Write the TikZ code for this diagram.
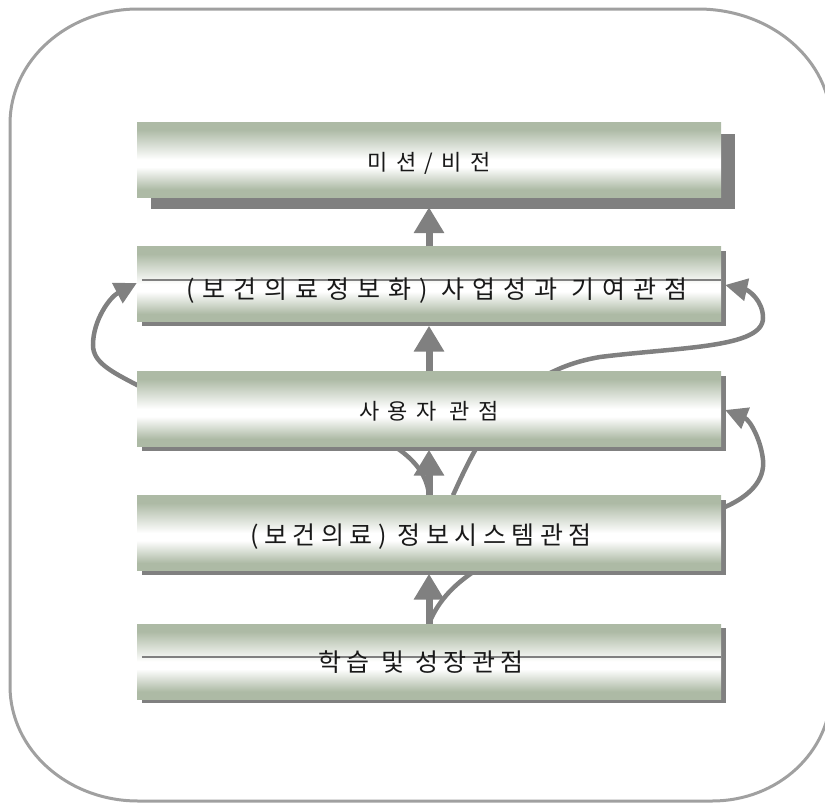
\documentclass[tikz,border=0pt]{standalone}
\usepackage{fontspec}
\newfontfamily\krA[LetterSpace=38]{Noto Sans CJK KR}
\newfontfamily\krB[LetterSpace=22]{Noto Sans CJK KR}
\newfontfamily\krC[LetterSpace=32]{Noto Sans CJK KR}
\usetikzlibrary{arrows.meta,shadows,backgrounds,calc}
\definecolor{bxg}{HTML}{ADBAA5}
\definecolor{arr}{HTML}{808080}
\definecolor{frm}{HTML}{A0A0A0}
\pgfdeclareverticalshading{boxshade}{100bp}{color(0bp)=(bxg); color(30bp)=(bxg); color(45bp)=(white); color(50bp)=(white); color(70bp)=(bxg); color(100bp)=(bxg)}
\tikzset{
  box/.style={shade, shading=boxshade, minimum width=584pt, minimum height=75pt, inner sep=0pt},
  txtsmall/.style={inner sep=0pt, text=black!90, font=\krA\fontsize{22pt}{24pt}\selectfont},
  txtbig/.style={inner sep=0pt, text=black!90, font=\krB\fontsize{25pt}{27pt}\selectfont},
  txtwide/.style={inner sep=0pt, text=black!90, font=\krC\fontsize{25pt}{27pt}\selectfont},
  shad/.style={drop shadow={shadow xshift=5pt, shadow yshift=-4pt, fill=arr, opacity=1}},
  bigshad/.style={drop shadow={shadow xshift=14pt, shadow yshift=-12pt, fill=arr, opacity=1}},
  uparrow/.style={draw=arr, line width=7pt, -{Triangle[length=26pt,width=29pt]}},
  looparrow/.style={draw=arr, line width=4.5pt, -{Triangle[length=22pt,width=22pt]}},
  framestyle/.style={draw=frm, line width=3pt},
  rulestyle/.style={draw=arr, line width=1.2pt}
}
\begin{document}
\begin{tikzpicture}[x=1pt,y=-1pt]
\useasboundingbox (0,0) rectangle (825,803);
\begin{scope}
\clip (0,0) rectangle (825,803);
% outer frame
\draw[framestyle] (10,124) .. controls (10,60) and (68,9) .. (138,9) -- (698,9)
  .. controls (771,9) and (831,60) .. (831,124) -- (831,691)
  .. controls (831,752) and (778,801) .. (712,801) -- (138,801)
  .. controls (68,801) and (10,750) .. (10,686) -- cycle;
\end{scope}
% boxes
\node[box,bigshad] (b1) at (429,159.5) {};
\node[box,shad] (b2) at (429,284) {};
\node[box,shad] (b3) at (429,409) {};
\node[box,shad] (b4) at (429,533) {};
\node[box,shad] (b5) at (429,661.5) {};
% thin rules
\draw[rulestyle] ($(b2.west)+(5,-4)$) -- ($(b2.east)+(0,-4)$);
\draw[rulestyle] ($(b5.west)+(5,-4.5)$) -- ($(b5.east)+(0,-4.5)$);
% texts
\node[txtsmall] (t1) at ($(b1.center)+(0,4)$) {미션/비전};
\node[txtwide] (t2) at ($(b2.center)+(8,7)$) {(보건의료정보화) 사업성과 기여관점};
\node[txtsmall] (t3) at ($(b3.center)+(0,2)$) {사용자 관점};
\node[txtbig] (t4) at ($(b4.center)+(-8,4)$) {(보건의료) 정보시스템관점};
\node[txtbig] (t5) at ($(b5.center)+(-8,1)$) {학습 및 성장관점};
% curved connectors behind boxes
\begin{pgfonlayer}{background}
\draw[looparrow] (b4.north) .. controls (427,470) and (405,440) .. (330,420)
  .. controls (255,400) and (164,399) .. (137,385)
  .. controls (110,371) and (93,362) .. (93,345)
  .. controls (93,320) and (110,297) .. ($(b2.west)+(0,-1)$);
\draw[looparrow] ($(b4.north)+(24,0)$) .. controls (478,440) and (510,372) .. (600,357)
  .. controls (680,347) and (763,348) .. (763,318)
  .. controls (763,300) and (748,290) .. ($(b2.east)+(4,1)$);
\draw[looparrow] (b5.north) .. controls (440,595) and (470,560) .. (560,535)
  .. controls (640,515) and (690,522) .. (725,507)
  .. controls (750,496) and (765,480) .. (763,460)
  .. controls (761,440) and (750,420) .. ($(b3.east)+(4,1)$);
\end{pgfonlayer}
% vertical arrows
\draw[uparrow] (b2.north) -- ($(b1.south)+(0,10)$);
\draw[uparrow] (b3.north) -- ($(b2.south)+(0,4)$);
\draw[uparrow] (b4.north) -- ($(b3.south)+(0,3)$);
\draw[uparrow] (b5.north) -- ($(b4.south)+(0,3)$);
\end{tikzpicture}
\end{document}
